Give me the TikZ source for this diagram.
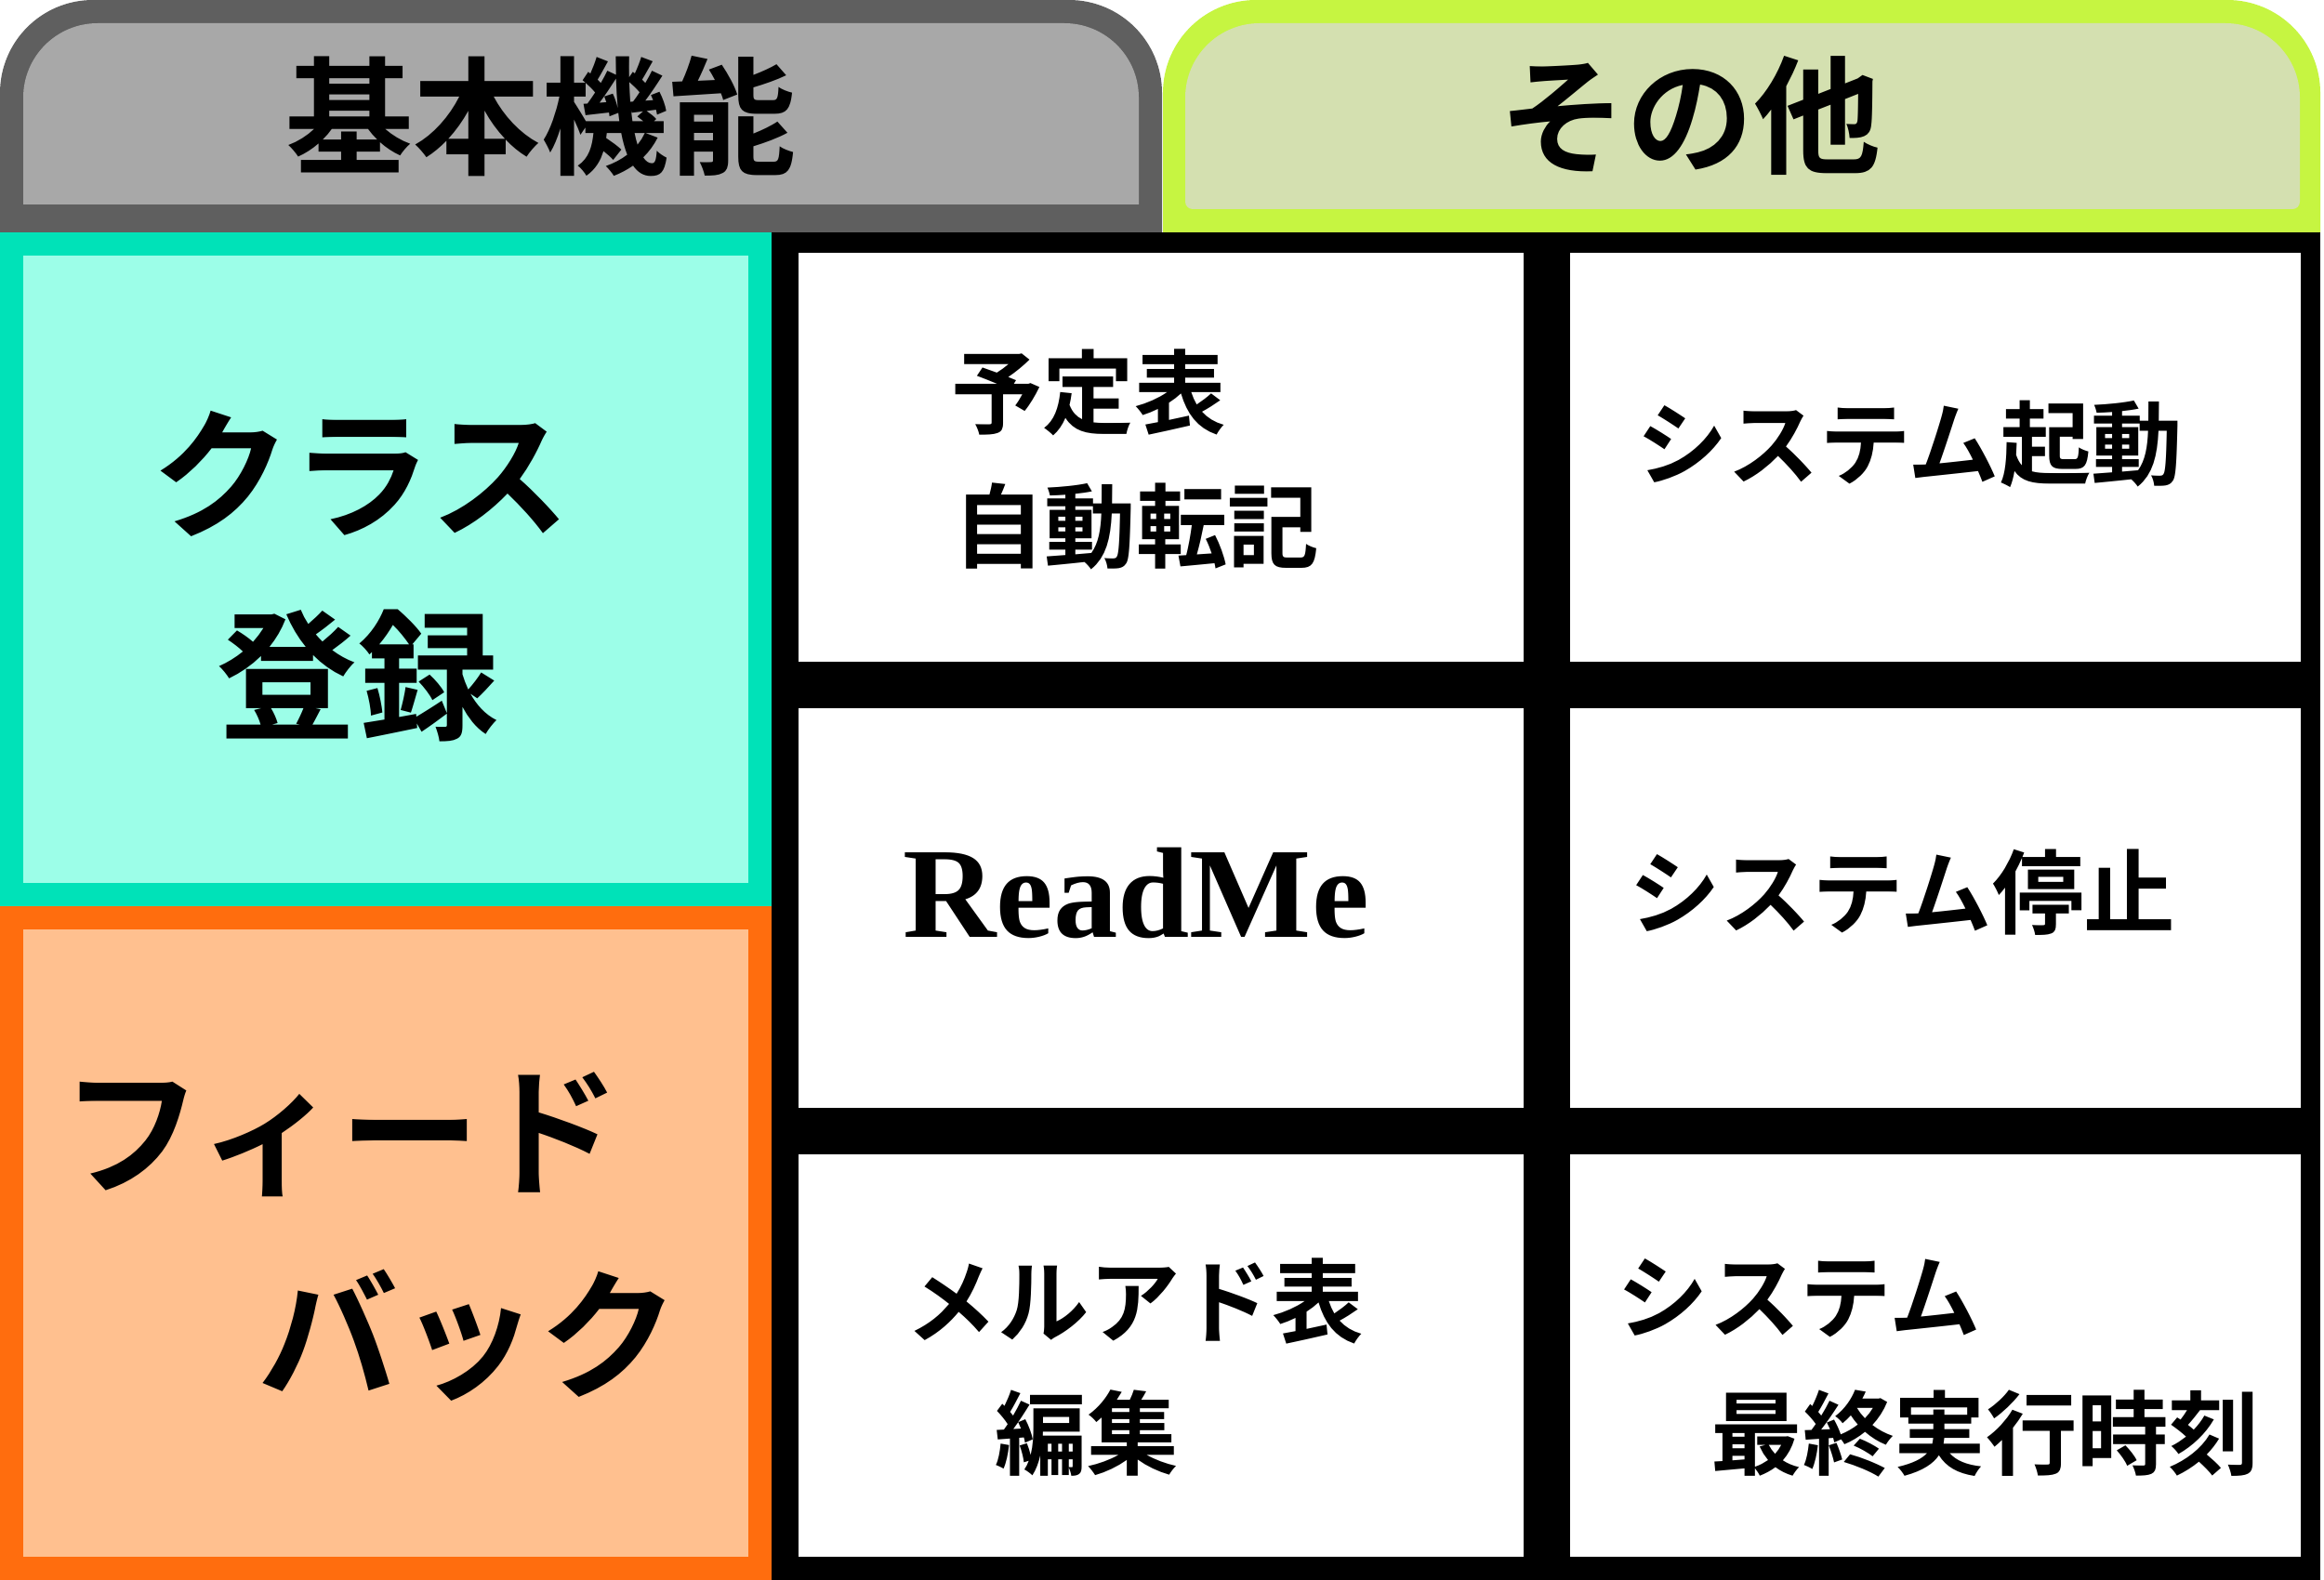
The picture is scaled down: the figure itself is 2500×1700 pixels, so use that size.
\documentclass[tikz,border=0pt]{standalone}
\usepackage{fontspec}
\newfontfamily\jpfont{Noto Sans CJK JP}[BoldFont={Noto Sans CJK JP Bold}]
\newfontfamily\readmefont{Liberation Serif}
\definecolor{tabgray}{RGB}{95,95,95}
\definecolor{tabgraylight}{RGB}{168,168,168}
\definecolor{tabgreen}{RGB}{198,245,65}
\definecolor{tabgreenlight}{RGB}{212,224,176}
\definecolor{classteal}{RGB}{0,226,184}
\definecolor{classteallight}{RGB}{156,254,232}
\definecolor{fborange}{RGB}{255,109,14}
\definecolor{fborangelight}{RGB}{255,192,143}

\begin{document}
\begin{tikzpicture}[x=0.01cm,y=-0.01cm,
  celltext/.style={inner sep=0pt,font=\jpfont\bfseries\fontsize{28pt}{34pt}\selectfont},
  bigtext/.style={inner sep=0pt,font=\jpfont\bfseries\fontsize{43pt}{50pt}\selectfont},
  tabtext/.style={inner sep=0pt,font=\jpfont\bfseries\fontsize{39pt}{46pt}\selectfont},
  cellbox/.style={fill=white}
]
\useasboundingbox (0,0) rectangle (2500,1700);
\fill[white] (0,0) rectangle (2500,1700);

% header tabs
\fill[tabgray] (0,250) [rounded corners=1cm] -- (0,0) -- (1250,0) [sharp corners] -- (1250,250) -- cycle;
\fill[tabgraylight] (25,220) [rounded corners=0.8cm] -- (25,25) -- (1225,25) [sharp corners] -- (1225,220) -- cycle;
\fill[tabgreen] (1251,250) [rounded corners=1cm] -- (1251,0) -- (2496,0) [sharp corners] -- (2496,250) -- cycle;
\fill[tabgreenlight] (1275,225) [rounded corners=0.8cm] -- (1275,25) -- (2474,25) [rounded corners=0.08cm] -- (2474,225) -- cycle;
\node[tabtext] (basic) at (582,125) {基本機能};
\node[tabtext] (other) at (1818,125) {その他};

% left column
\fill[classteal] (0,250) rectangle (830,975);
\fill[classteallight] (25,275) rectangle (805,950);
\fill[fborange] (0,975) rectangle (830,1700);
\fill[fborangelight] (25,1000) rectangle (805,1675);
\node[bigtext] (class1) at (388,510) {クラス};
\node[bigtext] (class2) at (385,727) {登録};
\node[bigtext] (fb1) at (367,1221) {フィード};
\node[bigtext] (fb2) at (504,1437) {バック};

% grid of other functions
\fill[black] (830,250) rectangle (2496,1700);
\fill[cellbox] (859,272) rectangle (1639,712);
\fill[cellbox] (1689,272) rectangle (2475,712);
\fill[cellbox] (859,762) rectangle (1639,1192);
\fill[cellbox] (1689,762) rectangle (2475,1192);
\fill[cellbox] (859,1242) rectangle (1639,1675);
\fill[cellbox] (1689,1242) rectangle (2475,1675);

\node[celltext] (sched1) at (1171,422) {予定表};
\node[celltext] (sched2) at (1222,566) {自動転記};
\node[celltext] (start) at (2054,478) {システム起動};
\node[inner sep=0pt,anchor=base,font=\readmefont\bfseries\fontsize{39.5pt}{46pt}\selectfont] (readme) at (1222,1008) {ReadMe};
\node[celltext] (stop) at (2046,960) {システム停止};
\node[celltext] (mail1) at (1221,1400) {メルアド表};
\node[celltext] (mail2) at (1169,1542) {編集};
\node[celltext] (last1) at (1935,1397) {システム};
\node[celltext] (last2) at (2136,1543) {最終実行時刻};
\end{tikzpicture}
\end{document}
